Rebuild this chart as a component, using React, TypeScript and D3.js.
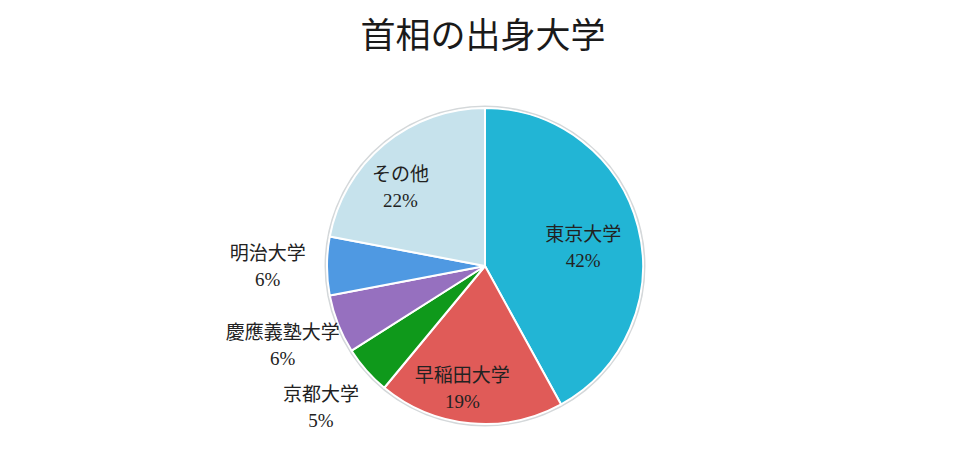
import React, { useEffect, useRef } from "react";
import * as d3 from "d3";

const universities = ["東京大学", "早稲田大学", "京都大学", "慶應義塾大学", "明治大学", "その他"];
const shares = [42, 19, 5, 6, 6, 22];
const colors = ["#22b5d5", "#e05b58", "#0f991b", "#9670bf", "#4f99e2", "#c6e2ec"];
// labels placed inside the slice (true) or to the left, outside the pie (false)
const inside = [true, true, false, false, false, true];

const W = 960;
const H = 466;

export const PieChart: React.FC = () => {
  const ref = useRef<SVGSVGElement | null>(null);

  useEffect(() => {
    const svg = d3.select(ref.current);
    svg.selectAll("*").remove();

    const cx = 485;
    const cy = 266;
    const r = 158;

    svg
      .append("text")
      .attr("x", W / 2 + 3)
      .attr("y", 48)
      .attr("text-anchor", "middle")
      .attr("font-family", "'Noto Sans CJK JP', sans-serif")
      .attr("font-size", 35)
      .attr("fill", "#1a1a1a")
      .text("首相の出身大学");

    const data = universities.map((name, i) => ({ name, value: shares[i], i }));
    const pie = d3.pie<any>().sort(null).value((d: any) => d.value);
    const arcs = pie(data);

    const arc: any = d3.arc().innerRadius(0).outerRadius(r);
    const labelIn: any = d3.arc().innerRadius(r * 0.72).outerRadius(r * 0.72);
    const labelOut: any = d3.arc().innerRadius(r * 1.35).outerRadius(r * 1.35);

    const g = svg.append("g").attr("transform", `translate(${cx},${cy})`);

    g.append("circle")
      .attr("r", r + 1.5)
      .attr("fill", "none")
      .attr("stroke", "#d4d8da")
      .attr("stroke-width", 2);

    g.selectAll("path.slice")
      .data(arcs)
      .enter()
      .append("path")
      .attr("class", "slice")
      .attr("d", arc)
      .attr("fill", (d: any) => colors[d.data.i])
      .attr("stroke", "#ffffff")
      .attr("stroke-width", 2)
      .attr("stroke-linejoin", "round");

    const labels = g
      .selectAll("g.label")
      .data(arcs)
      .enter()
      .append("g")
      .attr("class", "label")
      .attr("transform", (d: any) => {
        if (inside[d.data.i]) {
          const [x, y] = labelIn.centroid(d);
          return `translate(${x - 12},${y + 9})`;
        }
        const [x, y] = labelOut.centroid(d);
        return `translate(${x - 4},${y})`;
      });

    labels
      .append("text")
      .attr("y", -6)
      .attr("text-anchor", "middle")
      .attr("font-family", "'Noto Sans CJK JP', sans-serif")
      .attr("font-size", 19)
      .attr("fill", "#222")
      .text((d: any) => d.data.name);

    labels
      .append("text")
      .attr("y", 20)
      .attr("text-anchor", "middle")
      .attr("font-family", "'Liberation Serif', serif")
      .attr("font-size", 19)
      .attr("fill", "#222")
      .text((d: any) => `${d.data.value}%`);
  }, []);

  return <svg ref={ref} width={W} height={H} style={{ display: "block", background: "#fff" }} />;
};

export default function App() {
  return (
    <div style={{ position: "absolute", left: 0, top: 0 }}>
      <PieChart />
    </div>
  );
}
